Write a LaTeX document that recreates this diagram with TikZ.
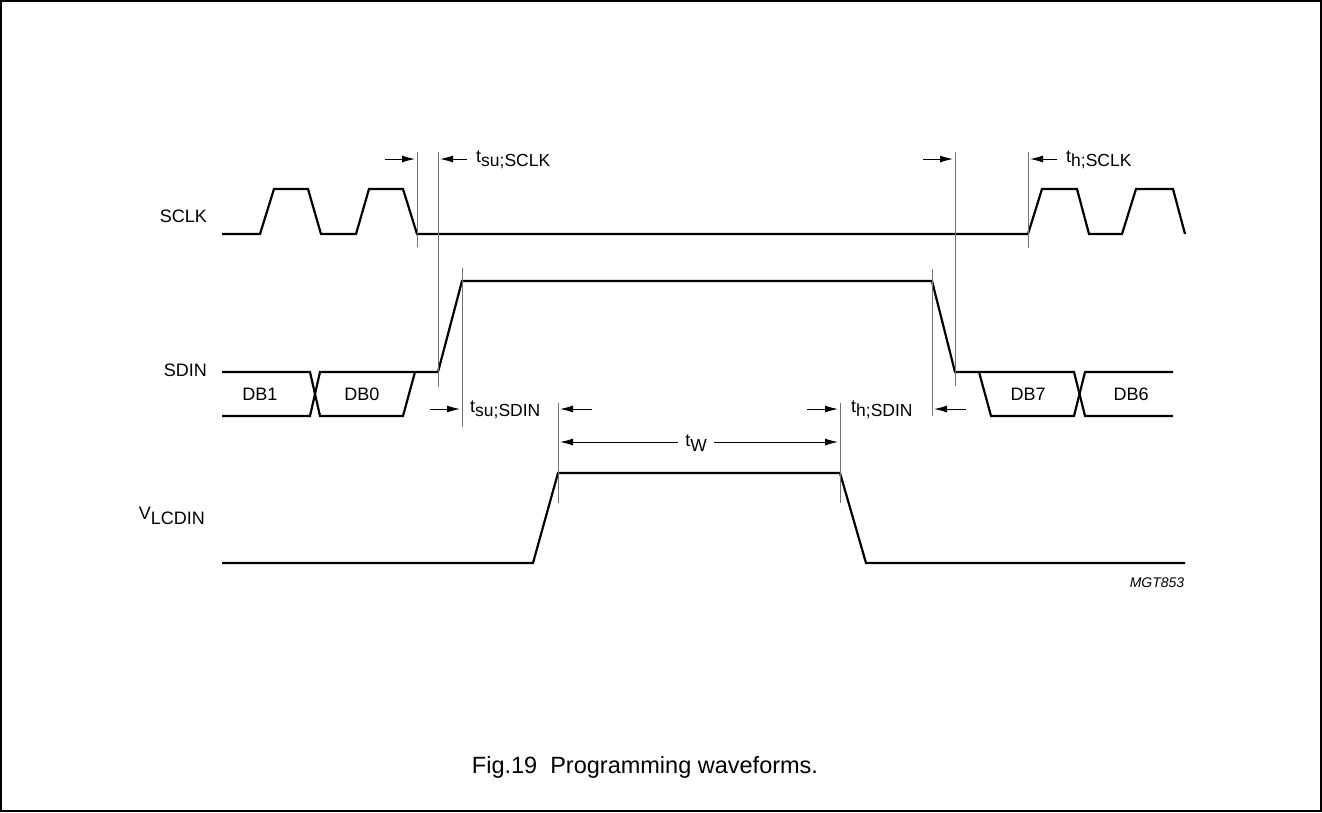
\documentclass[tikz,border=0pt]{standalone}
\usepackage{fontspec}
\setmainfont{Liberation Sans}
\usetikzlibrary{arrows.meta, positioning}
\newcommand{\tsym}[1]{t\raisebox{-4.5pt}{\fontsize{17.5}{18}\selectfont #1}}

\begin{document}
\begin{tikzpicture}[x=1pt, y=-1pt,
    wave/.style={line width=2.2pt, line join=miter},
    guide/.style={line width=0.9pt, black!55},
    dim/.style={line width=1pt, -{Latex[length=13pt,width=7pt]}},
    sig/.style={anchor=east, inner sep=0pt, font=\fontsize{18}{20}\selectfont},
    lbl/.style={inner sep=0pt, font=\fontsize{18}{20}\selectfont}
]
\useasboundingbox (0,0) rectangle (1322,812);
\draw[line width=2pt] (1,1) rectangle (1321,811);

% signal names
\node[sig] (sclk) at (207,216) {SCLK};
\node[sig] (sdin) at (207,370) {SDIN};
\node[sig] (vlcd) at (205,516) {V\raisebox{-5pt}{LCDIN}};

% waveforms
\draw[wave] (222,234) -- (260,234) -- (274,189) -- (308,189) -- (321,234) -- (356,234)
    -- (369,189) -- (403,189) -- (417,234) -- (1028,234) -- (1042,189) -- (1077,189)
    -- (1089,234) -- (1122,234) -- (1136,189) -- (1173,189) -- (1185,234);
\draw[wave] (222,372) -- (310,372) -- (320,416) -- (403,416) -- (415,372);
\draw[wave] (222,416) -- (310,416) -- (320,372) -- (438,372) -- (462,281) -- (932,281)
    -- (955,372) -- (1074,372) -- (1085,416) -- (1173,416);
\draw[wave] (979,372) -- (991,416) -- (1074,416) -- (1085,372) -- (1173,372);
\draw[wave] (222,563) -- (533,563) -- (558,473) -- (840,473) -- (866,563) -- (1185,563);

\node[lbl] (db1) at (260,394) {DB1};
\node[lbl] (db0) at (362,394) {DB0};
\node[lbl] (db7) at (1028,394) {DB7};
\node[lbl] (db6) at (1131,394) {DB6};

% timing guides
\foreach \x/\a/\b in {417/152/247, 438/152/387, 955/152/386, 1028/152/248,
                      462/268/427, 932/269/416, 558/403/503, 840/403/503}
    \draw[guide] (\x,\a) -- (\x,\b);

\coordinate (s1) at (385,159);  \coordinate (e1) at (415,159);
\coordinate (s2) at (467,159);  \coordinate (e2) at (440,159);
\coordinate (s3) at (923,159);  \coordinate (e3) at (953,159);
\coordinate (s4) at (1057,159); \coordinate (e4) at (1030,159);
\coordinate (s5) at (430,409);  \coordinate (e5) at (460,409);
\coordinate (s6) at (592,409);  \coordinate (e6) at (560,409);
\coordinate (s7) at (807,409);  \coordinate (e7) at (838,409);
\coordinate (s8) at (966,409);  \coordinate (e8) at (934,409);
\foreach \i in {1,...,8}
    \draw[dim] (s\i) -- (e\i);

\node[lbl, anchor=west] (tsuclk) at (476,160) {\tsym{su;SCLK}};
\node[lbl, anchor=west] (thclk) at (1066,160) {\tsym{h;SCLK}};
\node[lbl, anchor=west] (tsudin) at (470,410) {\tsym{su;SDIN}};
\node[lbl, anchor=west] (thdin) at (851,410) {\tsym{h;SDIN}};

\node[lbl] (tw) at (696,443) {\tsym{W}};
\coordinate (twl) at (560,442);
\coordinate (twr) at (838,442);
\draw[dim] (tw.west |- twl) ++(-7,0) -- (twl);
\draw[dim] (tw.east |- twr) ++(7,0) -- (twr);

\node[inner sep=0pt, font=\fontsize{14}{15}\selectfont\itshape] (ref) at (1157,583) {MGT853};
\node[inner sep=0pt, font=\fontsize{23.5}{26}\selectfont] (cap) at (645,767) {Fig.19\ \ Programming waveforms.};
\end{tikzpicture}
\end{document}
